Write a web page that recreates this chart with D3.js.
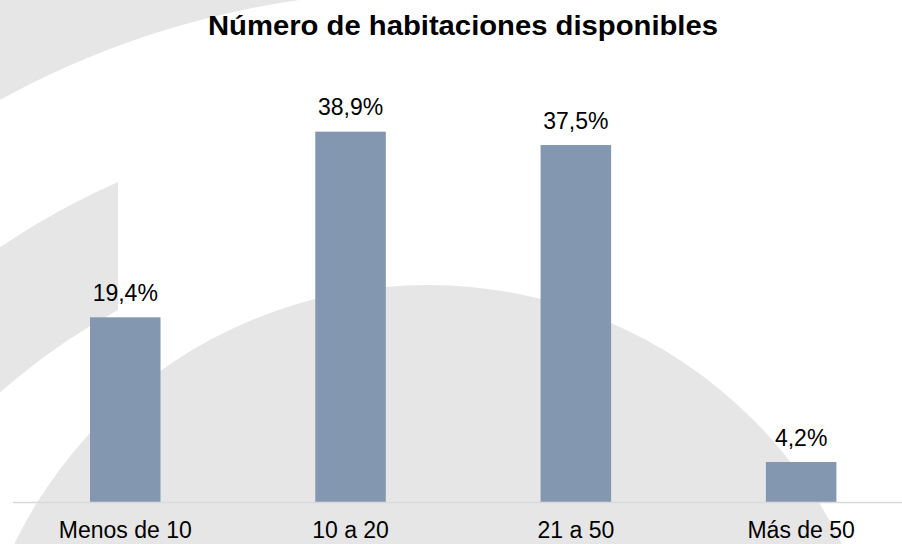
<!DOCTYPE html>
<html>
<head>
<meta charset="utf-8">
<script src="https://cdn.jsdelivr.net/npm/d3@7"></script>
<style>
  body { margin: 0; background: #fff; }
  svg { display: block; font-family: "Liberation Sans", Arial, sans-serif; }
</style>
</head>
<body>
<div id="chart"></div>
<script>
const title = "Número de habitaciones disponibles";
const categories = ["Menos de 10", "10 a 20", "21 a 50", "Más de 50"];
const values = [19.4, 38.9, 37.5, 4.2];

const width = 902, height = 544;
const barColor = "#8497b0", shade = "#e6e6e6";

const svg = d3.select("#chart")
  .append("svg")
    .attr("width", width)
    .attr("height", height);

// background watermark (light grey arcs)
const deco = svg.append("g");
deco.append("rect")
  .attr("width", 550).attr("height", 200)
  .attr("fill", shade);
deco.append("circle")
  .attr("cx", 425).attr("cy", 875).attr("r", 884)
  .attr("fill", "#fff");

svg.append("clipPath").attr("id", "leftcut")
  .append("rect").attr("x", 0).attr("y", 0).attr("width", 118).attr("height", height);
deco.append("circle")
  .attr("cx", 425).attr("cy", 875).attr("r", 758)
  .attr("fill", shade)
  .attr("clip-path", "url(#leftcut)");
deco.append("circle")
  .attr("cx", 425).attr("cy", 875).attr("r", 643)
  .attr("fill", "#fff")
  .attr("clip-path", "url(#leftcut)");
deco.append("circle")
  .attr("cx", 428).attr("cy", 745).attr("r", 460)
  .attr("fill", shade);

// scales
const x = d3.scaleBand()
  .domain(categories)
  .range([12.6, 913.8])
  .paddingInner(0.687)
  .paddingOuter(0.3435);

const y = d3.scaleLinear()
  .domain([0, 40])
  .range([502, 121.2]);

// bars
svg.append("g")
  .selectAll("rect")
  .data(values)
  .join("rect")
    .attr("x", (d, i) => x(categories[i]))
    .attr("y", d => y(d))
    .attr("width", x.bandwidth())
    .attr("height", d => y(0) - y(d))
    .attr("fill", barColor);

// x axis
const xAxis = svg.append("g")
  .attr("transform", `translate(0, ${y(0)})`)
  .call(d3.axisBottom(x).tickSize(0).tickSizeOuter(0).tickPadding(0));
xAxis.select(".domain").attr("stroke", "#d9d9d9").attr("stroke-width", 1.5);
xAxis.selectAll("text")
  .attr("dy", null)
  .attr("y", 36)
  .attr("fill", "#000")
  .style("font-family", "'Liberation Sans', Arial, sans-serif")
  .style("font-size", "23px");

// value labels
svg.append("g")
  .selectAll("text")
  .data(values)
  .join("text")
    .attr("x", (d, i) => x(categories[i]) + x.bandwidth() / 2)
    .attr("y", d => y(d) - 16.5)
    .attr("text-anchor", "middle")
    .attr("fill", "#000")
    .style("font-size", "23px")
    .text(d => d.toFixed(1).replace(".", ",") + "%");

// title
svg.append("text")
  .attr("x", 463)
  .attr("y", 35)
  .attr("text-anchor", "middle")
  .attr("fill", "#000")
  .attr("textLength", 510)
  .attr("lengthAdjust", "spacingAndGlyphs")
  .style("font-size", "27px")
  .style("font-weight", "bold")
  .text(title);
</script>
</body>
</html>
